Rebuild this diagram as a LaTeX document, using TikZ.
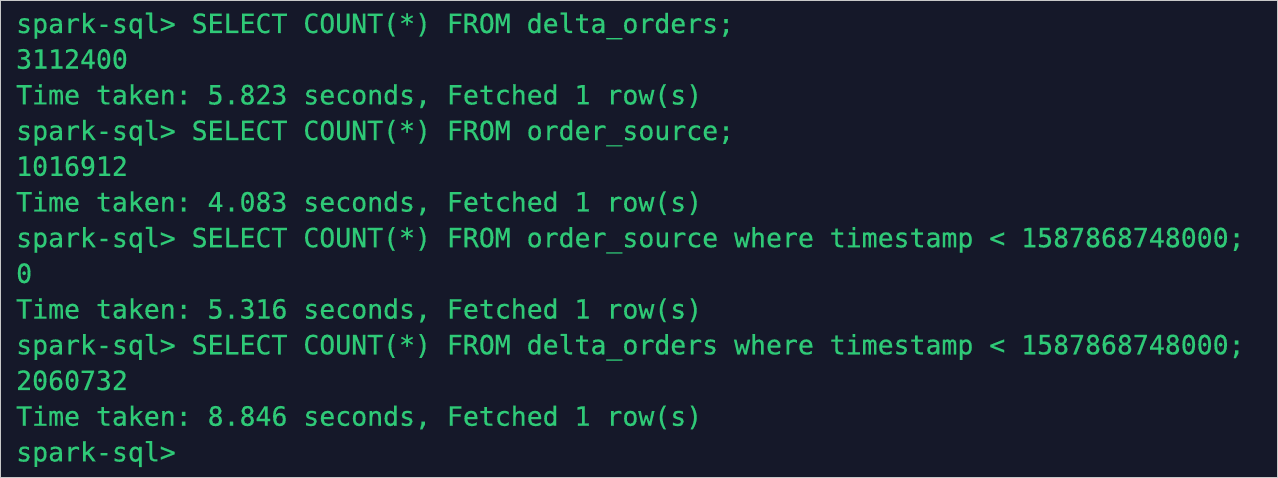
\documentclass[tikz,border=0pt]{standalone}
\usepackage{fontspec}
\newfontfamily\termfont{DejaVu Sans Mono}[FakeBold=0.5]
\definecolor{termbg}{HTML}{151829}
\definecolor{termfg}{HTML}{2FC977}
\definecolor{frame}{HTML}{C8C8C8}
\begin{document}
\begin{tikzpicture}[x=1pt,y=-1pt,
  tline/.style={anchor=base west,inner sep=0pt,text=termfg,font=\termfont\fontsize{26.5}{30}\selectfont\frenchspacing}]
\useasboundingbox (0,0) rectangle (1278,478);
\fill[frame] (0,0) rectangle (1278,478);
\fill[termbg] (1,1) rectangle (1277,476.5);
\def\pitch{35.7}
\node[tline] (l1) at (16,33+0*\pitch) {spark-sql> SELECT COUNT(*) FROM delta\_orders;};
\node[tline] (l2) at (16,33+1*\pitch) {3112400};
\node[tline] (l3) at (16,33+2*\pitch) {Time taken: 5.823 seconds, Fetched 1 row(s)};
\node[tline] (l4) at (16,33+3*\pitch) {spark-sql> SELECT COUNT(*) FROM order\_source;};
\node[tline] (l5) at (16,33+4*\pitch) {1016912};
\node[tline] (l6) at (16,33+5*\pitch) {Time taken: 4.083 seconds, Fetched 1 row(s)};
\node[tline] (l7) at (16,33+6*\pitch) {spark-sql> SELECT COUNT(*) FROM order\_source where timestamp < 1587868748000;};
\node[tline] (l8) at (16,33+7*\pitch) {0};
\node[tline] (l9) at (16,33+8*\pitch) {Time taken: 5.316 seconds, Fetched 1 row(s)};
\node[tline] (l10) at (16,33+9*\pitch) {spark-sql> SELECT COUNT(*) FROM delta\_orders where timestamp < 1587868748000;};
\node[tline] (l11) at (16,33+10*\pitch) {2060732};
\node[tline] (l12) at (16,33+11*\pitch) {Time taken: 8.846 seconds, Fetched 1 row(s)};
\node[tline] (l13) at (16,33+12*\pitch) {spark-sql>};
\end{tikzpicture}
\end{document}
